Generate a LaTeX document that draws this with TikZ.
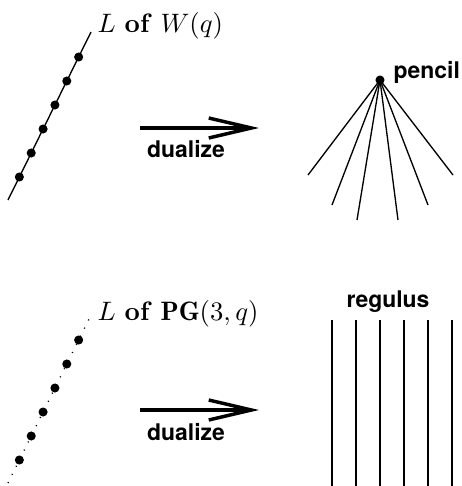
\documentclass[tikz,border=0pt]{standalone}
\usepackage{amsmath,amssymb}
\usepackage{fontspec}
\newfontfamily\helv{TeX Gyre Heros}
\usepackage{tikz}
\usetikzlibrary{arrows.meta,positioning,calc}
\tikzset{
  pt/.style={circle,fill=black,inner sep=0pt,minimum size=3.4pt},
  dualarrow/.style={line width=1.3pt,-{Straight Barb[length=16pt,width=7.5pt,line width=1.3pt]}},
  word/.style={font=\helv\bfseries\fontsize{8.6}{10}\selectfont,inner sep=0pt},
  maths/.style={inner sep=0pt}
}

\begin{document}
\begin{tikzpicture}[x=0.375pt,y=-0.375pt,line width=0.5pt]
\useasboundingbox (0,0) rectangle (461,486);
% top row: a line of W(q) dualizes to a pencil
\coordinate (wlo) at (8,200);
\coordinate (whi) at (91,32);
\draw (wlo) -- (whi);
\foreach \i in {1,...,6}{\node[pt] (w\i) at ($(wlo)!{(\i*24-1)/168}!(whi)$) {};}
\node[maths,anchor=base west] (wlab) at (97,32) {$L$ \textbf{of} $W(q)$};
\coordinate (a1s) at (140,128);
\coordinate (a1e) at (259,128);
\draw[dualarrow] (a1s) -- (a1e);
\node[word,anchor=base] (d1) at (186,157) {dualize};
\node[pt] (pen) at (380,80) {};
\node[word,anchor=base west] (penlab) at (393,78) {pencil};
\foreach \x/\y [count=\k] in {308/175,332/205,357/220,398/220,428/205,453/175}{
  \coordinate (p\k) at (\x,\y);
  \draw (pen.center) -- (p\k);
}
% bottom row: a line of PG(3,q) dualizes to a regulus
\coordinate (glo) at (8,483);
\coordinate (ghi) at (91,315);
\draw[dash pattern=on 0.4pt off 3pt] (glo) -- (ghi);
\foreach \i in {1,...,6}{\node[pt] (g\i) at ($(glo)!{(\i*24-1)/168}!(ghi)$) {};}
\node[maths,anchor=base west] (glab) at (97,320) {$L$ \textbf{of} $\mathbf{PG}(3,q)$};
\coordinate (a2s) at (140,410);
\coordinate (a2e) at (259,410);
\draw[dualarrow] (a2s) -- (a2e);
\node[word,anchor=base] (d2) at (186,440) {dualize};
\node[word,anchor=base] (reglab) at (388,307) {regulus};
\foreach \x [count=\k] in {332,356,380,404,428,452}{
  \coordinate (rt\k) at (\x,320);
  \coordinate (rb\k) at (\x,486);
  \draw (rt\k) -- (rb\k);
}
\end{tikzpicture}
\end{document}
